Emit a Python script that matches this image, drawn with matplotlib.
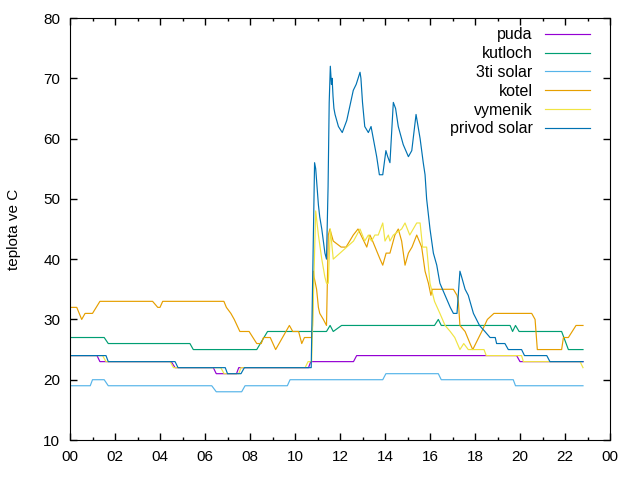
import matplotlib
matplotlib.use("Agg")
import matplotlib.pyplot as plt

plt.rcParams['font.family'] = ['Liberation Sans', 'DejaVu Sans']

# cas v hodinach a teploty jednotlivych cidel
puda_t = [0, 1.2, 1.33, 4.5, 4.67, 6.37, 6.5, 7.4, 7.5, 10.6, 10.7, 12.6, 12.74, 19.85, 20.0, 22.8]
puda_v = [24, 24, 23, 23, 22, 22, 21, 21, 22, 22, 23, 23, 24, 24, 23, 23]

kutloch_t = [0, 1.52, 1.7, 5.33, 5.48, 8.3, 8.78, 11.4, 11.56, 11.7, 12.07, 16.2, 16.37, 16.5,
             19.56, 19.67, 19.8, 19.96, 21.85, 22.15, 22.8]
kutloch_v = [27, 27, 26, 26, 25, 25, 28, 28, 29, 28, 29, 29, 30, 29,
             29, 28, 29, 28, 28, 25, 25]

solar3_t = [0, 0.9, 1.0, 1.52, 1.7, 6.3, 6.5, 7.63, 7.78, 9.66, 9.78, 13.9, 14.04, 16.37, 16.5,
            19.7, 19.8, 22.8]
solar3_v = [19, 19, 20, 20, 19, 19, 18, 18, 19, 19, 20, 20, 21, 21, 20,
            20, 19, 19]

kotel_t = [0, 0.3, 0.52, 0.67, 1.0, 1.33, 3.67, 3.9, 4.0, 4.12, 6.84, 6.95, 7.15, 7.3, 7.55,
           7.96, 8.3, 8.5, 8.6, 8.9, 9.14, 9.75, 9.9, 10.16, 10.3, 10.42, 10.74, 10.78, 10.82,
           10.85, 10.96, 11.04, 11.1, 11.26, 11.4, 11.48, 11.55, 11.7, 12.05, 12.27, 12.59,
           12.8, 13.19, 13.33, 13.45, 13.78, 13.9, 14.05, 14.22, 14.44, 14.59, 14.74, 14.89,
           15.04, 15.2, 15.41, 15.63, 15.78, 15.93, 16.04, 16.1, 17.04, 17.2, 17.26, 17.33,
           17.56, 17.78, 17.9, 18.3, 18.55, 18.84, 20.52, 20.67, 20.77, 21.85, 21.93, 22.15,
           22.49, 22.8]
kotel_v = [32, 32, 30, 31, 31, 33, 33, 32, 32, 33, 33, 32, 31, 30, 28,
           28, 26, 26, 27, 27, 25, 29, 28, 28, 26, 27, 27, 29, 38,
           37, 35, 32, 31, 30, 29, 44, 45, 43, 42, 42, 44,
           45, 42, 44, 43, 40, 39, 41, 41, 44, 45, 43, 39,
           41, 42, 44, 42, 38, 36, 34, 35, 35, 34, 33, 29,
           28, 26, 25, 28, 30, 31, 31, 30, 25, 25, 27, 27,
           29, 29]

vymenik_t = [0, 1.45, 1.6, 4.45, 4.6, 6.7, 6.85, 7.5, 7.6, 10.45, 10.58, 10.74, 10.92, 11.04,
             11.19, 11.33, 11.4, 11.48, 11.57, 11.7, 12.0, 12.3, 12.6, 12.89, 13.1, 13.26, 13.4,
             13.55, 13.7, 13.9, 14.0, 14.15, 14.22, 14.37, 14.74, 14.89, 15.1, 15.41, 15.56,
             15.67, 15.85, 16.0, 16.2, 16.44, 16.67, 16.9, 17.1, 17.33, 17.5, 17.7, 18.4, 18.5,
             20.07, 20.15, 22.67, 22.8]
vymenik_v = [24, 24, 23, 23, 22, 22, 21, 21, 22, 22, 23, 23, 48, 44,
             40, 37, 36, 36, 45, 40, 41, 42, 43, 45, 43, 44, 43,
             44, 44, 46, 43, 44, 43, 44, 45, 46, 44, 46, 46,
             42, 42, 36, 33, 31, 29, 28, 27, 25, 26, 25, 25, 24,
             24, 23, 23, 22]

privod_t = [0, 1.6, 1.7, 4.67, 4.8, 6.9, 7.0, 7.6, 7.75, 10.72, 10.87, 10.92, 10.98, 11.04,
            11.1, 11.19, 11.26, 11.33, 11.4, 11.47, 11.52, 11.57, 11.62, 11.65, 11.69, 11.73,
            11.78, 11.93, 12.1, 12.3, 12.59, 12.72, 12.89, 12.93, 13.0, 13.1, 13.26, 13.38,
            13.48, 13.63, 13.75, 13.9, 14.04, 14.12, 14.22, 14.37, 14.47, 14.59, 14.81, 15.04,
            15.19, 15.38, 15.56, 15.7, 15.78, 15.85, 16.0, 16.15, 16.3, 16.44, 16.67, 16.9,
            17.04, 17.2, 17.33, 17.41, 17.56, 17.7, 17.93, 18.2, 18.44, 18.67, 18.9, 18.96,
            19.33, 19.48, 20.07, 20.2, 21.19, 21.33, 22.8]
privod_v = [24, 24, 23, 23, 22, 22, 21, 21, 22, 22, 56, 55, 52, 49,
            47, 45, 43, 41, 40, 52, 66, 72, 69, 70, 67, 65,
            64, 62, 61, 63, 68, 69, 71, 70, 66, 62, 61, 62,
            60, 57, 54, 54, 58, 57, 56, 66, 65, 62, 59, 57,
            58, 64, 60, 56, 54, 50, 45, 41, 39, 36, 34, 32,
            31, 31, 38, 37, 35, 34, 31, 29, 28, 27, 27, 26,
            26, 25, 25, 24, 24, 23, 23]

series = [
    ("puda", puda_t, puda_v, "#9400d3"),
    ("kutloch", kutloch_t, kutloch_v, "#009e73"),
    ("3ti solar", solar3_t, solar3_v, "#56b4e9"),
    ("kotel", kotel_t, kotel_v, "#e69f00"),
    ("vymenik", vymenik_t, vymenik_v, "#f0e442"),
    ("privod solar", privod_t, privod_v, "#0072b2"),
]

fig = plt.figure(figsize=(6.4, 4.8), dpi=100)
ax = fig.add_axes([70 / 640, 1 - 440 / 480, 540 / 640, 422 / 480])

for name, t, v, col in series:
    ax.plot(t, v, color=col, lw=0.85, label=name)

ax.set_xlim(0, 24)
ax.set_ylim(10, 80)
ax.set_xticks(range(0, 25, 2))
ax.set_xticklabels(["%02d" % (h % 24) for h in range(0, 25, 2)])
ax.set_xticks(range(0, 25), minor=True)
ax.set_yticks(range(10, 81, 10))
ax.tick_params(which="both", direction="in", top=True, right=True, labelsize=11, width=1)
ax.tick_params(which="major", length=5, pad=7)
ax.tick_params(which="minor", length=2.5)
ax.set_ylabel("teplota ve C", fontsize=11, labelpad=16)

leg = ax.legend(loc="upper right", bbox_to_anchor=(0.963, 0.978), frameon=False,
                markerfirst=False, fontsize=11.5, handlelength=2.8, handletextpad=0.8,
                labelspacing=0.24, borderpad=0, borderaxespad=0)

fig.savefig("out.png", dpi=100)
